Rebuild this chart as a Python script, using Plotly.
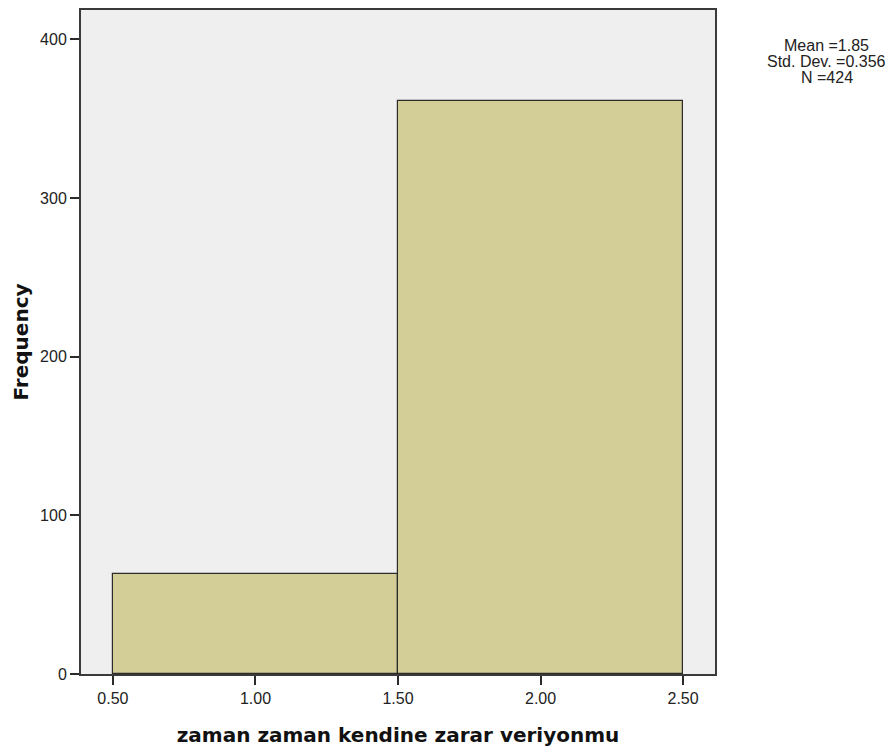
import plotly.graph_objects as go

bin_centers = [1.0, 2.0]
frequencies = [63, 361]
x_ticks = [0.5, 1.0, 1.5, 2.0, 2.5]
x_tick_labels = ["0.50", "1.00", "1.50", "2.00", "2.50"]
y_ticks = [0, 100, 200, 300, 400]
stats_lines = ["Mean =1.85", "Std. Dev. =0.356", "N =424"]

fig = go.Figure()
fig.add_trace(go.Bar(
    x=bin_centers, y=frequencies, width=1.0,
    marker=dict(color="#D3CE97", line=dict(color="#2b2b2b", width=1.2)),
    showlegend=False,
))

axis_common = dict(
    showgrid=False, zeroline=False, showline=True, mirror=True,
    linecolor="#3a3a3a", linewidth=2, ticks="outside", ticklen=9,
    tickcolor="#2b2b2b", tickwidth=1.5,
    tickfont=dict(family="Liberation Sans, Arial", size=16, color="#222"),
)

fig.update_layout(
    width=896, height=752,
    margin=dict(l=73, r=189, t=0, b=86),
    paper_bgcolor="white", plot_bgcolor="#EFEFEF",
    bargap=0,
    xaxis=dict(range=[0.388, 2.612], tickvals=x_ticks, ticktext=x_tick_labels,
               title=dict(text="zaman zaman kendine zarar veriyonmu",
                          font=dict(family="DejaVu Sans", size=20, color="#111"),
                          standoff=22),
               **axis_common),
    yaxis=dict(range=[0, 418.5], tickvals=y_ticks,
               title=dict(text="Frequency",
                          font=dict(family="DejaVu Sans", size=20, color="#111"),
                          standoff=6),
               **axis_common),
)
fig.update_xaxes(title_font_weight="bold")
fig.update_yaxes(title_font_weight="bold")

for i, line in enumerate(stats_lines):
    fig.add_annotation(
        text=line, xref="paper", yref="paper",
        x=1.176, y=0.947 - i * 0.024, xanchor="center", yanchor="middle",
        showarrow=False,
        font=dict(family="Liberation Sans, Arial", size=16, color="#222"),
    )

fig.write_html("out.html")
